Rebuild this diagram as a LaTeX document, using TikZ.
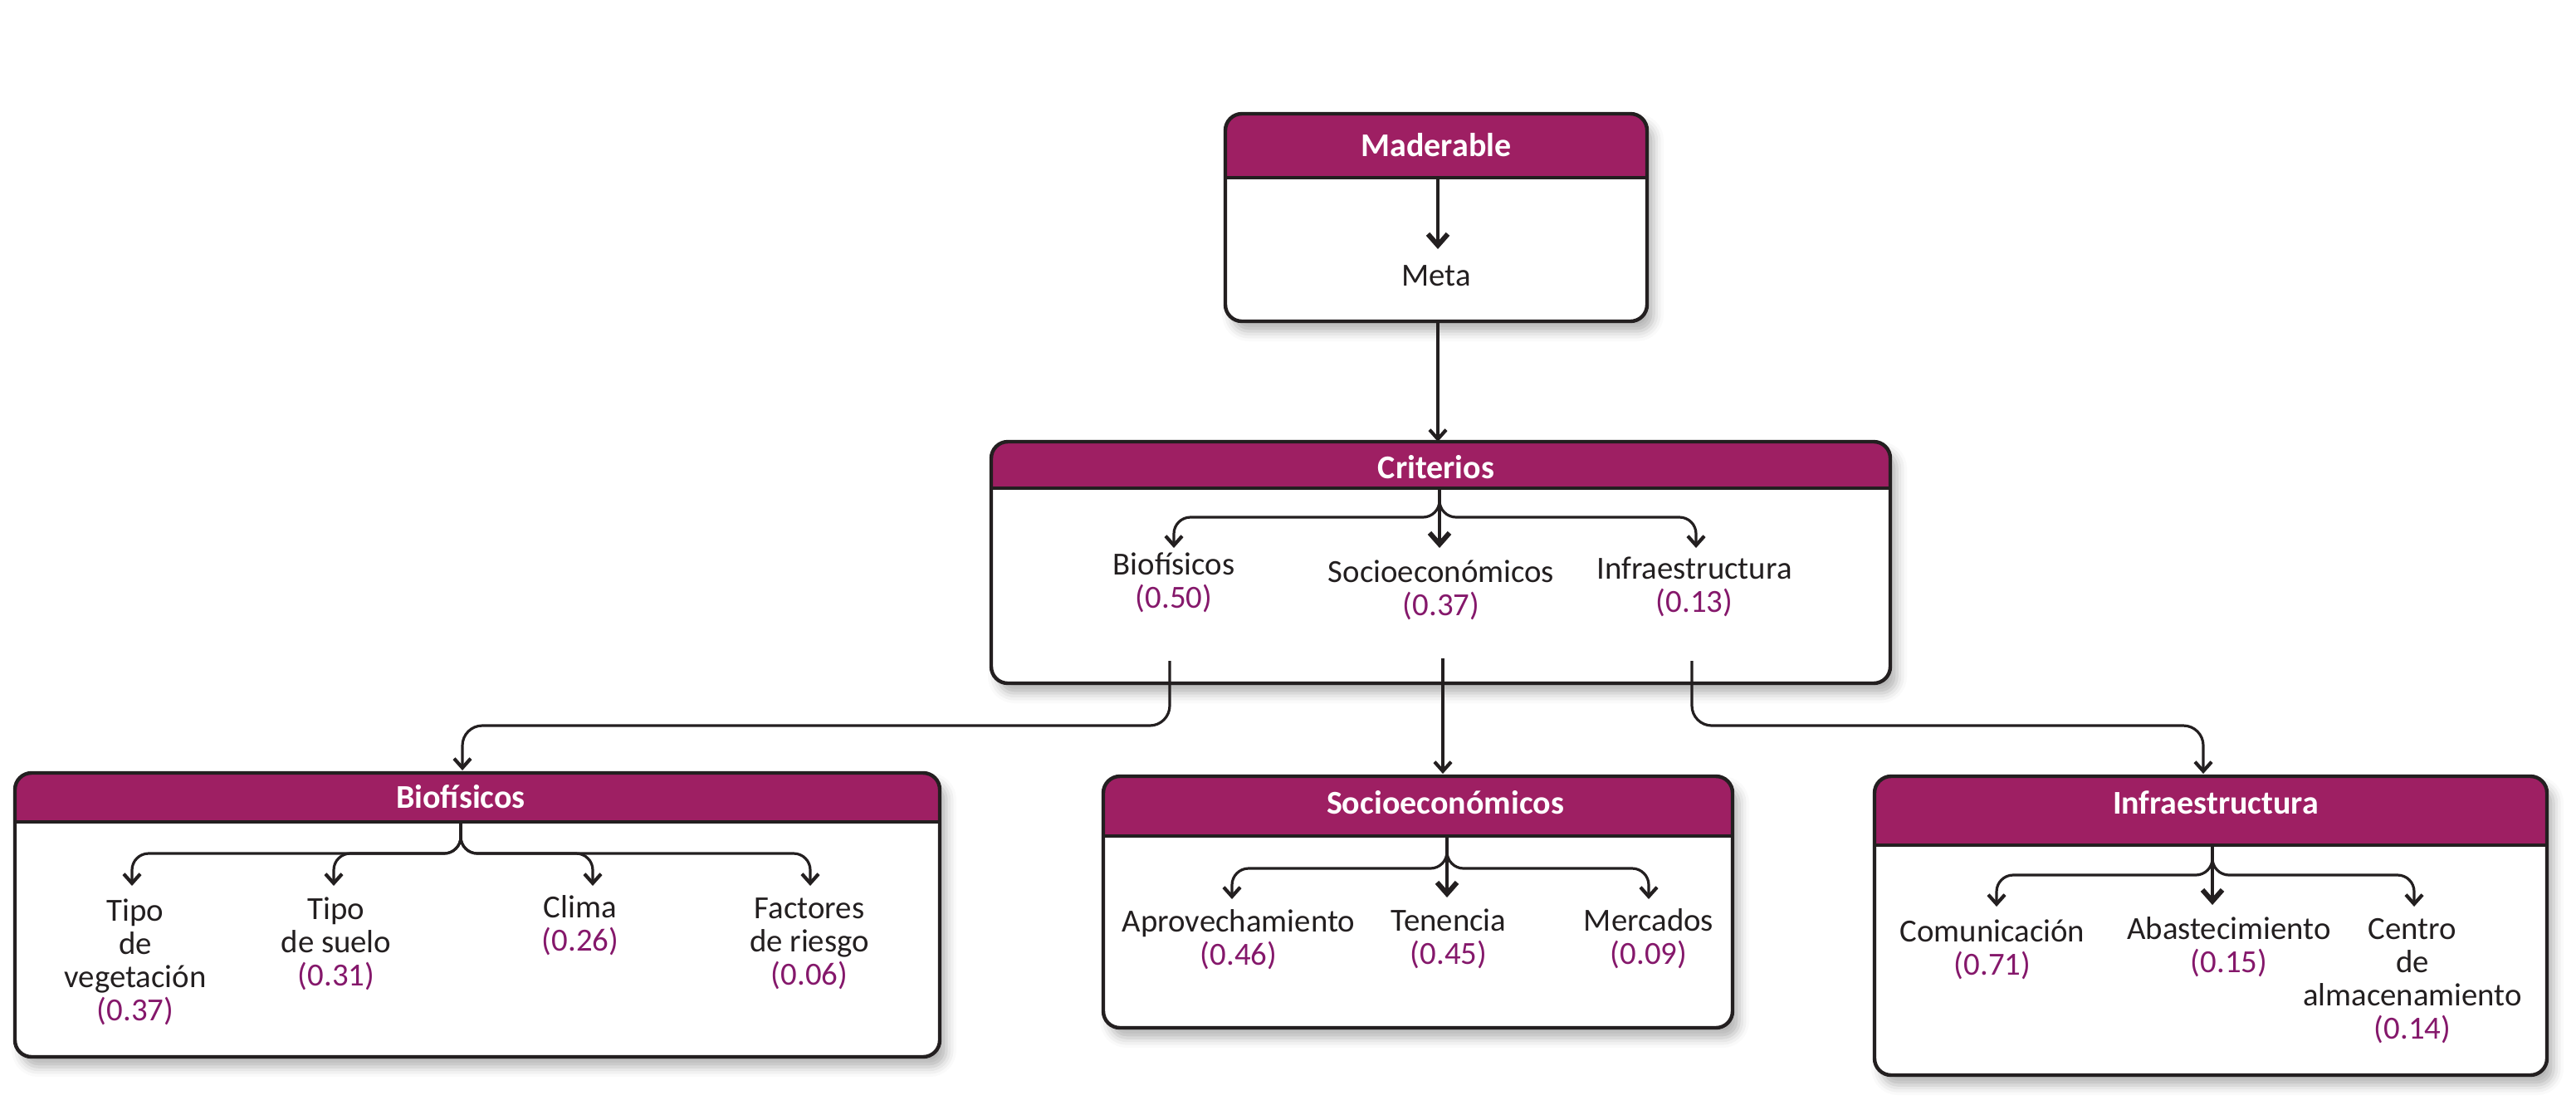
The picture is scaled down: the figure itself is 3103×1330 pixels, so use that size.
\documentclass[tikz,border=0pt]{standalone}
\usepackage{fontspec}
\setmainfont{Carlito}
\usetikzlibrary{arrows.meta,shadows.blur}
\definecolor{hdr}{HTML}{9E1F63}
\definecolor{wcol}{HTML}{85186B}
\definecolor{ink}{HTML}{231F20}
\newcommand{\wgt}[1]{\textcolor{wcol}{#1}}
\begin{document}
\begin{tikzpicture}[x=0.25pt,y=-0.25pt,
  panel/.style={rectangle, rounded corners=5pt, fill=white, inner sep=0pt, outer sep=0pt,
    blur shadow={shadow xshift=2pt, shadow yshift=-3pt, shadow blur radius=3pt, shadow opacity=30}},
  border/.style={draw=ink, line width=1.1pt, rounded corners=5pt},
  hline/.style={draw=ink, line width=1.1pt},
  conn/.style={draw=ink, line width=0.8pt, rounded corners=5pt, -{Straight Barb[length=2.8pt,width=5pt,line width=1.05pt]}},
  midconn/.style={draw=ink, line width=1pt, -{Straight Barb[length=3.4pt,width=6pt,line width=1.5pt]}},
  outconn/.style={conn, rounded corners=6pt},
  title/.style={text=white, font=\bfseries\fontsize{10pt}{12pt}\selectfont, inner sep=0pt},
  lbl/.style={text=ink, font=\fontsize{9.7pt}{10pt}\selectfont, align=center, inner sep=0pt}]
\useasboundingbox (0,0) rectangle (3103,1330);

% ---------- boxes ----------
\node[panel, minimum width=127pt, minimum height=62.5pt] (mad) at (1730,262) {};
\node[panel, minimum width=270.75pt, minimum height=72.75pt] (crit) at (1735.5,677.5) {};
\node[panel, minimum width=278.5pt, minimum height=85.5pt] (bio) at (575,1102) {};
\node[panel, minimum width=189.5pt, minimum height=75.75pt] (soc) at (1708,1086.5) {};
\node[panel, minimum width=202.5pt, minimum height=90pt] (inf) at (2663,1115) {};

% headers
\begin{scope}
  \clip[rounded corners=5pt] (mad.north west) rectangle (mad.south east);
  \fill[hdr] (mad.north west) rectangle (1984,214);
\end{scope}
\begin{scope}
  \clip[rounded corners=5pt] (crit.north west) rectangle (crit.south east);
  \fill[hdr] (crit.north west) rectangle (2277,588);
\end{scope}
\begin{scope}
  \clip[rounded corners=5pt] (bio.north west) rectangle (bio.south east);
  \fill[hdr] (bio.north west) rectangle (1132,990);
\end{scope}
\begin{scope}
  \clip[rounded corners=5pt] (soc.north west) rectangle (soc.south east);
  \fill[hdr] (soc.north west) rectangle (2087,1007);
\end{scope}
\begin{scope}
  \clip[rounded corners=5pt] (inf.north west) rectangle (inf.south east);
  \fill[hdr] (inf.north west) rectangle (3068,1018);
\end{scope}

\draw[hline] (1476,214) -- (1984,214);
\draw[hline] (1194,588) -- (2277,588);
\draw[hline] (18,990) -- (1132,990);
\draw[hline] (1329,1007) -- (2087,1007);
\draw[hline] (2258,1018) -- (3068,1018);

\draw[border] (mad.north west) rectangle (mad.south east);
\draw[border] (crit.north west) rectangle (crit.south east);
\draw[border] (bio.north west) rectangle (bio.south east);
\draw[border] (soc.north west) rectangle (soc.south east);
\draw[border] (inf.north west) rectangle (inf.south east);

% ---------- titles ----------
\node[title] (madT) at (1730,175) {Maderable};
\node[title] (critT) at (1730,563) {Criterios};
\node[title] (bioT) at (555,960) {Biofísicos};
\node[title] (socT) at (1741,967) {Socioeconómicos};
\node[title] (infT) at (2669,967) {Infraestructura};

% ---------- labels ----------
\node[lbl] (meta) at (1730,332) {Meta};

\node[lbl] (cb) at (1414,702) {Biofísicos\\\wgt{(0.50)}};
\node[lbl] (cs) at (1736,711) {Socioeconómicos\\\wgt{(0.37)}};
\node[lbl] (ci) at (2041,707) {Infraestructura\\\wgt{(0.13)}};

\node[lbl] (b1) at (163,1159) {Tipo\\de\\vegetación\\\wgt{(0.37)}};
\node[lbl] (b2) at (405,1137) {Tipo\\de suelo\\\wgt{(0.31)}};
\node[lbl] (b3) at (699,1115) {Clima\\\wgt{(0.26)}};
\node[lbl] (b4) at (975,1137) {Factores\\de riesgo\\\wgt{(0.06)}};

\node[lbl] (s1) at (1492,1132) {Aprovechamiento\\\wgt{(0.46)}};
\node[lbl] (s2) at (1745,1131) {Tenencia\\\wgt{(0.45)}};
\node[lbl] (s3) at (1986,1131) {Mercados\\\wgt{(0.09)}};

\node[lbl] (i1) at (2400,1144) {Comunicación\\\wgt{(0.71)}};
\node[lbl] (i2) at (2685,1141) {Abastecimiento\\\wgt{(0.15)}};
\node[lbl] (i3) at (2906,1182) {Centro\\de\\almacenamiento\\\wgt{(0.14)}};

% ---------- connector coordinates ----------
\coordinate (mS) at (1732,214);
\coordinate (mT) at (1732,300);

\coordinate (cS) at (1734,588);
\coordinate (cT1) at (1414,660);
\coordinate (cT2) at (1734,660);
\coordinate (cT3) at (2043,660);

\coordinate (o1) at (1409,796);
\coordinate (o2) at (1738,793);
\coordinate (o3) at (2038,796);
\coordinate (bIn) at (557,928);
\coordinate (sIn) at (1738,932);
\coordinate (iIn) at (2654,932);

\coordinate (bS) at (555,990);
\coordinate (bT1) at (159,1067);
\coordinate (bT2) at (402,1067);
\coordinate (bT3) at (714,1067);
\coordinate (bT4) at (976,1067);

\coordinate (sS) at (1743,1007);
\coordinate (sT1) at (1484,1083);
\coordinate (sT2) at (1743,1081);
\coordinate (sT3) at (1986,1083);

\coordinate (iS) at (2665,1018);
\coordinate (iT1) at (2405,1092);
\coordinate (iT2) at (2665,1090);
\coordinate (iT3) at (2908,1092);

% ---------- connectors ----------
\draw[midconn] (mS) -- (mT);
\draw[conn] (mad.south -| mS) -- (crit.north -| mS);

\draw[conn] (cS) -- ++(0,35) -| (cT1);
\draw[conn] (cS) -- ++(0,35) -| (cT3);
\draw[midconn] (cS) -- (cT2);

\draw[outconn] (o1) -- ++(0,78) -| (bIn);
\draw[conn] (o2) -- (sIn);
\draw[outconn] (o3) -- ++(0,78) -| (iIn);

\draw[conn] (bS) -- ++(0,38) -| (bT1);
\draw[conn] (bS) -- ++(0,38) -| (bT2);
\draw[conn] (bS) -- ++(0,38) -| (bT3);
\draw[conn] (bS) -- ++(0,38) -| (bT4);

\draw[conn] (sS) -- ++(0,39) -| (sT1);
\draw[conn] (sS) -- ++(0,39) -| (sT3);
\draw[midconn] (sS) -- (sT2);

\draw[conn] (iS) -- ++(0,36) -| (iT1);
\draw[conn] (iS) -- ++(0,36) -| (iT3);
\draw[midconn] (iS) -- (iT2);
\end{tikzpicture}
\end{document}
